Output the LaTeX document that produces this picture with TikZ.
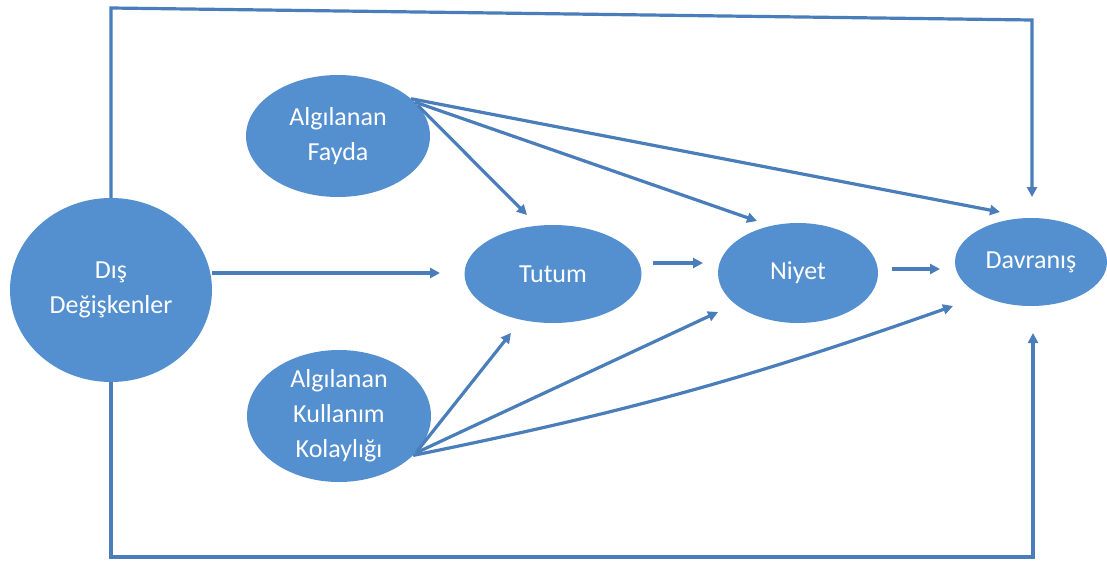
\documentclass[tikz,border=0pt]{standalone}
\usepackage{fontspec}
\setmainfont{Carlito}
\usetikzlibrary{shapes.geometric,arrows.meta}
\definecolor{nodefill}{RGB}{84,144,207}
\definecolor{linecol}{RGB}{74,126,187}
\tikzset{
  oval/.style={ellipse, fill=nodefill, draw=none, inner sep=0pt, text=white,
    align=center, font=\fontsize{26}{35}\selectfont},
  arr/.style={draw=linecol, line width=3.2pt, line join=miter,
    -{Triangle[length=10pt,width=10pt]}},
}
\begin{document}
\begin{tikzpicture}[x=1pt,y=-1pt]
\useasboundingbox[fill=white] (0,0) rectangle (1107,565);

\node[oval, minimum width=202pt, minimum height=184pt] (dis) at (111,290) {Dış\\Değişkenler};
\node[oval, minimum width=184pt, minimum height=122pt] (fayda) at (338,136) {Algılanan\\Fayda};
\node[oval, minimum width=184pt, minimum height=132pt] (kolay) at (339,416) {Algılanan\\Kullanım\\Kolaylığı};
\node[oval, minimum width=177pt, minimum height=98pt] (tutum) at (553,274) {Tutum};
\node[oval, minimum width=160pt, minimum height=100pt] (niyet) at (798,273) {Niyet};
\node[oval, minimum width=152pt, minimum height=88pt] (davr) at (1031,262) {Davranış};

% frame corners and free arrow ends
\coordinate (tl) at (111,8);
\coordinate (tr) at (1032,20);
\coordinate (dtop) at (1032,197);
\coordinate (bl) at (111,557);
\coordinate (br) at (1033,557);
\coordinate (dbot) at (1033,333);
\coordinate (dis2t) at (440,273);
\coordinate (f2t) at (527,215);
\coordinate (f2n) at (757,221);
\coordinate (f2d) at (1000,212);
\coordinate (k2t) at (511,333);
\coordinate (k2n) at (718,312);
\coordinate (k2d) at (953,306);
\coordinate (t2na) at (653,263);
\coordinate (t2nb) at (703,263);
\coordinate (n2da) at (892,269);
\coordinate (n2db) at (940,269);

% outer frame connectors
\draw[arr] (dis.north) -- (tl) -- (tr) -- (dtop);
\draw[arr] (dis.south) -- (bl) -- (br) -- (dbot);

% main chain
\draw[arr] (dis.east |- dis2t) -- (dis2t);
\draw[arr] (t2na) -- (t2nb);
\draw[arr] (n2da) -- (n2db);

% from Algılanan Fayda
\draw[arr] (fayda.21) -- (f2t);
\draw[arr] (fayda.24) -- (f2n);
\draw[arr] (fayda.27) -- (f2d);

% from Algılanan Kullanım Kolaylığı
\draw[arr] (kolay.-24) -- (k2t);
\draw[arr] (kolay.-26) -- (k2n);
\draw[arr] (kolay.-28) to[bend right=4] (k2d);
\end{tikzpicture}
\end{document}
